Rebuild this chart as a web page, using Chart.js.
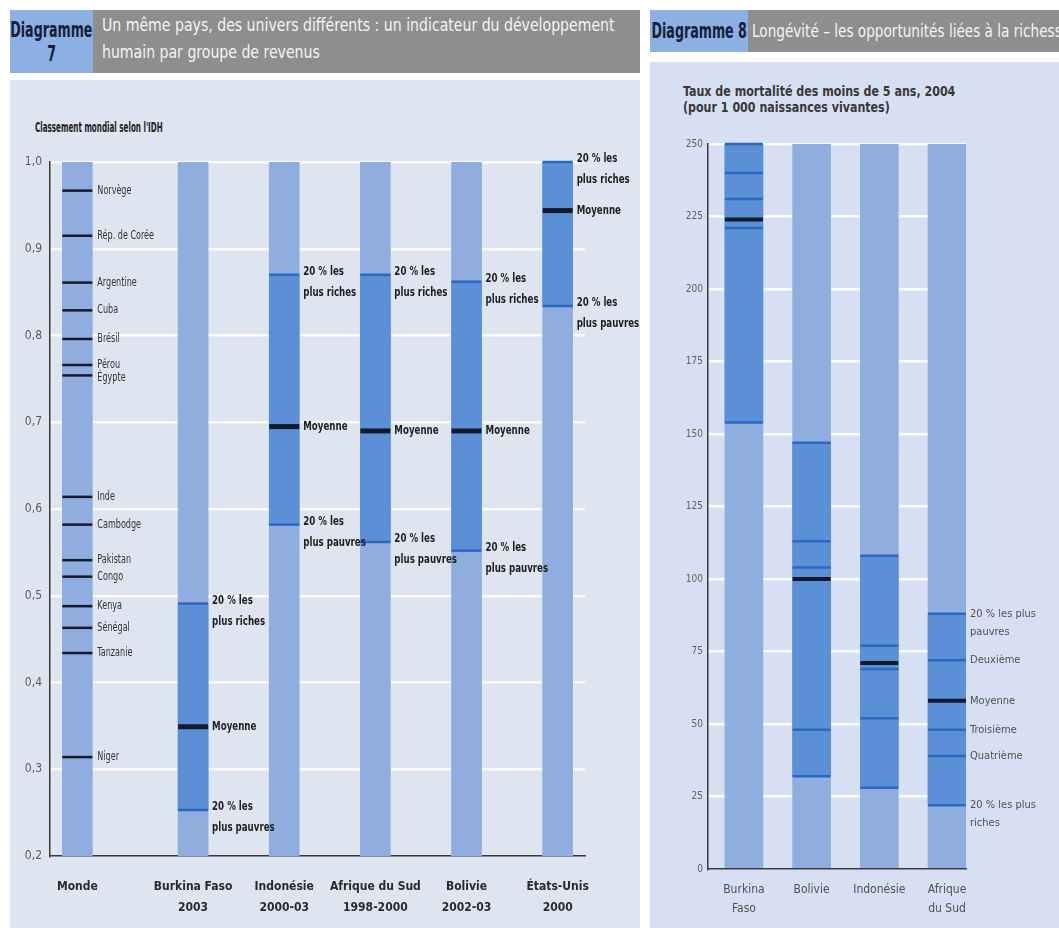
<!DOCTYPE html>
<html lang="fr">
<head>
<meta charset="utf-8">
<title>Diagrammes 7 et 8</title>
<script src="https://cdn.jsdelivr.net/npm/chart.js@4.4.1/dist/chart.umd.min.js"></script>
<style>
  body { margin: 0; width: 1059px; height: 928px; position: relative; overflow: hidden; background: #fff;
         font-family: "Liberation Sans Narrow", "DejaVu Sans Condensed", sans-serif; }
  .panel7 { position: absolute; left: 10px; top: 80px; width: 630px; height: 848px; background: #dfe4f1; }
  .panel8 { position: absolute; left: 650px; top: 62px; width: 409px; height: 866px; background: #d7e0f2; }
  .head { position: absolute; background: #8e8e8e; overflow: hidden; }
  .head .num { position: absolute; left: 0; top: 0; bottom: 0; background: #8db0e2; color: #15203d; font-weight: bold;
               display: flex; flex-direction: column; align-items: center; justify-content: center; white-space: nowrap; }
  .head .num span { display: block; transform: scaleX(0.67); }
  .head .txt { position: absolute; color: #f4f4f4; white-space: nowrap; transform-origin: left top; }
  #h7 { left: 10px; top: 10px; width: 630px; height: 63px; }
  #h7 .num { width: 83px; font-size: 21px; line-height: 24px; }
  #h7 .txt { left: 92px; top: 1px; font-size: 18px; line-height: 27px; transform: scaleX(0.87); }
  #h8 { left: 650px; top: 10px; width: 409px; height: 42px; }
  #h8 .num { width: 98px; font-size: 21px; line-height: 42px; }
  #h8 .txt { left: 102px; top: 0; font-size: 17px; line-height: 42px; transform: scaleX(0.89); }
  .titre { position: absolute; color: #222; font-weight: bold; white-space: nowrap; transform-origin: left top; }
  #t7 { left: 35px; top: 119px; font-size: 14px; transform: scaleX(0.57); }
  #t8 { left: 683px; top: 83px; font-size: 14px; line-height: 16px; color: #383838; transform: scaleX(0.88); }
  canvas { position: absolute; }
  #c7 { left: 10px; top: 80px; }
  #c8 { left: 650px; top: 62px; }
</style>
</head>
<body>
<div class="panel7"></div>
<div class="panel8"></div>
<div class="head" id="h7"><div class="num"><span>Diagramme</span><span>7</span></div><div class="txt">Un même pays, des univers différents : un indicateur du développement<br>humain par groupe de revenus</div></div>
<div class="head" id="h8"><div class="num"><span>Diagramme 8</span></div><div class="txt">Longévité – les opportunités liées à la richesse</div></div>
<div class="titre" id="t7">Classement mondial selon l'IDH</div>
<div class="titre" id="t8">Taux de mortalité des moins de 5 ans, 2004<br>(pour 1 000 naissances vivantes)</div>
<canvas id="c7" width="640" height="848"></canvas>
<canvas id="c8" width="409" height="866"></canvas>
<script>
// Diagramme 7 : IDH par groupe de revenus
const idhCategories = [['Monde'], ['Burkina Faso', '2003'], ['Indonésie', '2000-03'], ['Afrique du Sud', '1998-2000'], ['Bolivie', '2002-03'], ['États-Unis', '2000']];
const idhTicks = [0.2, 0.3, 0.4, 0.5, 0.6, 0.7, 0.8, 0.9, 1.0];
const idhRiches = [null, 0.491, 0.870, 0.870, 0.862, 1.0];
const idhMoyenne = [null, 0.349, 0.695, 0.690, 0.690, 0.944];
const idhPauvres = [null, 0.253, 0.582, 0.562, 0.552, 0.834];
const mondePays = ['Norvège', 'Rép. de Corée', 'Argentine', 'Cuba', 'Brésil', 'Pérou', 'Égypte', 'Inde', 'Cambodge', 'Pakistan', 'Congo', 'Kenya', 'Sénégal', 'Tanzanie', 'Niger'];
const mondeIdh = [0.967, 0.915, 0.861, 0.829, 0.796, 0.766, 0.754, 0.614, 0.582, 0.541, 0.522, 0.488, 0.463, 0.434, 0.314];

// Diagramme 8 : mortalité des moins de 5 ans par quintile
const tmCategories = [['Burkina', 'Faso'], ['Bolivie'], ['Indonésie'], ['Afrique', 'du Sud']];
const tmTicks = [0, 25, 50, 75, 100, 125, 150, 175, 200, 225, 250];
const tmPauvres = [250, 147, 108, 88];
const tmDeuxieme = [240, 113, 77, 72];
const tmTroisieme = [231, 104, 69, 48];
const tmQuatrieme = [221, 48, 52, 39];
const tmRiches = [154, 32, 28, 22];
const tmMoyenne = [224, 100, 71, 58];

const POLICE = '"Liberation Sans Narrow", "DejaVu Sans Condensed", sans-serif';
const CLAIR = '#8fadde';
const FONCE = '#5b8fd6';
const TRAIT = '#2b68c2';
const NOIR = '#121a2c';
const BAR7 = 30;
const BAR8 = 38;

// position des colonnes : un écart supplémentaire après "Monde"
const idhX = idhCategories.map((c, i) => (i === 0 ? 0 : i + 0.27));
const tmX = tmCategories.map((c, i) => i);

function colonne(xs, lo, hi, color, thick, order) {
  const data = xs.map((x, i) => (lo[i] == null ? null : { x: x, y: [lo[i], hi[i]] })).filter(Boolean);
  return { type: 'bar', data, backgroundColor: color, barThickness: thick, grouped: false, order };
}

function traits(xs, series, color, width, radius, order) {
  const data = [];
  series.forEach((s) => s.forEach((v, i) => { if (v != null) data.push({ x: xs[i], y: v }); }));
  return {
    type: 'line', data, showLine: false, pointStyle: 'line', pointRadius: radius,
    pointBorderWidth: width, pointBorderColor: color, pointBackgroundColor: color, order, clip: false
  };
}

// texte resserré horizontalement (la police d'origine est très condensée)
function texte(ctx, t, x, y, sx) {
  ctx.save();
  ctx.translate(x, y);
  ctx.scale(sx, 1);
  ctx.fillText(t, 0, 0);
  ctx.restore();
}

function lignes(ctx, txt, x, y, pas, sx) {
  txt.forEach((t, k) => texte(ctx, t, x, y + k * pas, sx));
}

const grille = (c) => (c.index === 0 ? 'rgba(0,0,0,0)' : 'rgba(255,255,255,0.85)');

// étiquettes du diagramme 7
const etiquettes7 = {
  id: 'etiquettes7',
  afterDatasetsDraw(chart) {
    const { ctx } = chart;
    const { x, y } = chart.scales;
    ctx.save();
    ctx.textBaseline = 'middle';
    ctx.textAlign = 'left';
    ctx.font = '11.5px ' + POLICE;
    ctx.fillStyle = '#333';
    const xm = x.getPixelForValue(idhX[0]) + BAR7 / 2 + 5;
    let dernier = -Infinity;
    mondePays.forEach((nom, i) => {
      const py = Math.max(y.getPixelForValue(mondeIdh[i]), dernier + 13);
      texte(ctx, nom, xm, py, 0.78);
      dernier = py;
    });
    ctx.font = 'bold 13px ' + POLICE;
    ctx.fillStyle = '#1e1e1e';
    idhCategories.forEach((c, i) => {
      if (idhRiches[i] == null) return;
      const xl = x.getPixelForValue(idhX[i]) + BAR7 / 2 + 4;
      lignes(ctx, ['20 % les', 'plus riches'], xl, y.getPixelForValue(idhRiches[i]) - 3, 21, 0.74);
      texte(ctx, 'Moyenne', xl, y.getPixelForValue(idhMoyenne[i]), 0.74);
      lignes(ctx, ['20 % les', 'plus pauvres'], xl, y.getPixelForValue(idhPauvres[i]) - 3, 21, 0.74);
    });
    ctx.restore();
  }
};

// étiquettes du diagramme 8 (à droite de la dernière colonne)
const etiquettes8 = {
  id: 'etiquettes8',
  afterDatasetsDraw(chart) {
    const { ctx } = chart;
    const { x, y } = chart.scales;
    const i = tmCategories.length - 1;
    const xl = x.getPixelForValue(tmX[i]) + BAR8 / 2 + 4;
    ctx.save();
    ctx.textBaseline = 'middle';
    ctx.textAlign = 'left';
    ctx.font = '11px ' + POLICE;
    ctx.fillStyle = '#505050';
    lignes(ctx, ['20 % les plus', 'pauvres'], xl, y.getPixelForValue(tmPauvres[i]), 18, 1);
    ctx.fillText('Deuxième', xl, y.getPixelForValue(tmDeuxieme[i]));
    ctx.fillText('Moyenne', xl, y.getPixelForValue(tmMoyenne[i]));
    ctx.fillText('Troisième', xl, y.getPixelForValue(tmTroisieme[i]));
    ctx.fillText('Quatrième', xl, y.getPixelForValue(tmQuatrieme[i]));
    lignes(ctx, ['20 % les plus', 'riches'], xl, y.getPixelForValue(tmRiches[i]), 18, 1);
    ctx.restore();
  }
};

new Chart(document.getElementById('c7'), {
  type: 'bar',
  data: {
    datasets: [
      colonne(idhX, idhX.map(() => idhTicks[0]), idhX.map(() => idhTicks[idhTicks.length - 1]), CLAIR, BAR7, 4),
      colonne(idhX, idhPauvres, idhRiches, FONCE, BAR7, 3),
      traits([idhX[0]], mondeIdh.map((v) => [v]), NOIR, 2.5, BAR7 / 2, 2),
      traits(idhX, [idhRiches, idhPauvres], TRAIT, 2.5, BAR7 / 2, 1),
      traits(idhX, [idhMoyenne], NOIR, 5, BAR7 / 2, 0)
    ]
  },
  options: {
    responsive: false,
    animation: false,
    events: [],
    layout: { padding: { top: 82, right: 65, left: 0, bottom: 0 } },
    plugins: { legend: { display: false }, tooltip: { enabled: false } },
    scales: {
      x: {
        type: 'linear', min: -0.3, max: 5.57, offset: false,
        grid: { display: false },
        border: { color: '#3a3a3a', width: 1.5 },
        afterFit: (s) => { s.height = 72; },
        afterBuildTicks: (s) => { s.ticks = idhX.map((v) => ({ value: v })); },
        ticks: {
          autoSkip: false, maxRotation: 0, padding: 13, color: '#2a2a2a',
          font: { family: POLICE, size: 12, weight: 'bold', lineHeight: 1.7 },
          callback: (v, i) => idhCategories[i]
        }
      },
      y: {
        type: 'linear', min: idhTicks[0], max: idhTicks[idhTicks.length - 1],
        afterFit: (s) => { s.width = 40; },
        afterBuildTicks: (s) => { s.ticks = idhTicks.map((v) => ({ value: v })); },
        grid: { color: grille, lineWidth: 2.5, drawTicks: false },
        border: { color: '#3a3a3a', width: 1.5 },
        ticks: {
          padding: 8, color: '#5a5a5a', font: { family: POLICE, size: 12 },
          callback: (v) => v.toFixed(1).replace('.', ',')
        }
      }
    }
  },
  plugins: [etiquettes7]
});

new Chart(document.getElementById('c8'), {
  type: 'bar',
  data: {
    datasets: [
      colonne(tmX, tmX.map(() => tmTicks[0]), tmX.map(() => tmTicks[tmTicks.length - 1]), CLAIR, BAR8, 3),
      colonne(tmX, tmRiches, tmPauvres, FONCE, BAR8, 2),
      traits(tmX, [tmPauvres, tmDeuxieme, tmTroisieme, tmQuatrieme, tmRiches], TRAIT, 2.5, BAR8 / 2, 1),
      traits(tmX, [tmMoyenne], NOIR, 4, BAR8 / 2, 0)
    ]
  },
  options: {
    responsive: false,
    animation: false,
    events: [],
    layout: { padding: { top: 82, right: 93, left: 0, bottom: 0 } },
    plugins: { legend: { display: false }, tooltip: { enabled: false } },
    scales: {
      x: {
        type: 'linear', min: -0.53, max: 3.28, offset: false,
        grid: { display: false },
        border: { color: '#3a3a3a', width: 1.5 },
        afterFit: (s) => { s.height = 59; },
        afterBuildTicks: (s) => { s.ticks = tmX.map((v) => ({ value: v })); },
        ticks: {
          autoSkip: false, maxRotation: 0, padding: 4, color: '#505050',
          font: { family: POLICE, size: 12, lineHeight: 1.55 },
          callback: (v, i) => tmCategories[i]
        }
      },
      y: {
        type: 'linear', min: tmTicks[0], max: tmTicks[tmTicks.length - 1],
        afterFit: (s) => { s.width = 58; },
        afterBuildTicks: (s) => { s.ticks = tmTicks.map((v) => ({ value: v })); },
        grid: { color: grille, lineWidth: 2.5, drawTicks: false },
        border: { color: '#3a3a3a', width: 1.5 },
        ticks: { padding: 5, color: '#606060', font: { family: POLICE, size: 10 } }
      }
    }
  },
  plugins: [etiquettes8]
});
</script>
</body>
</html>
